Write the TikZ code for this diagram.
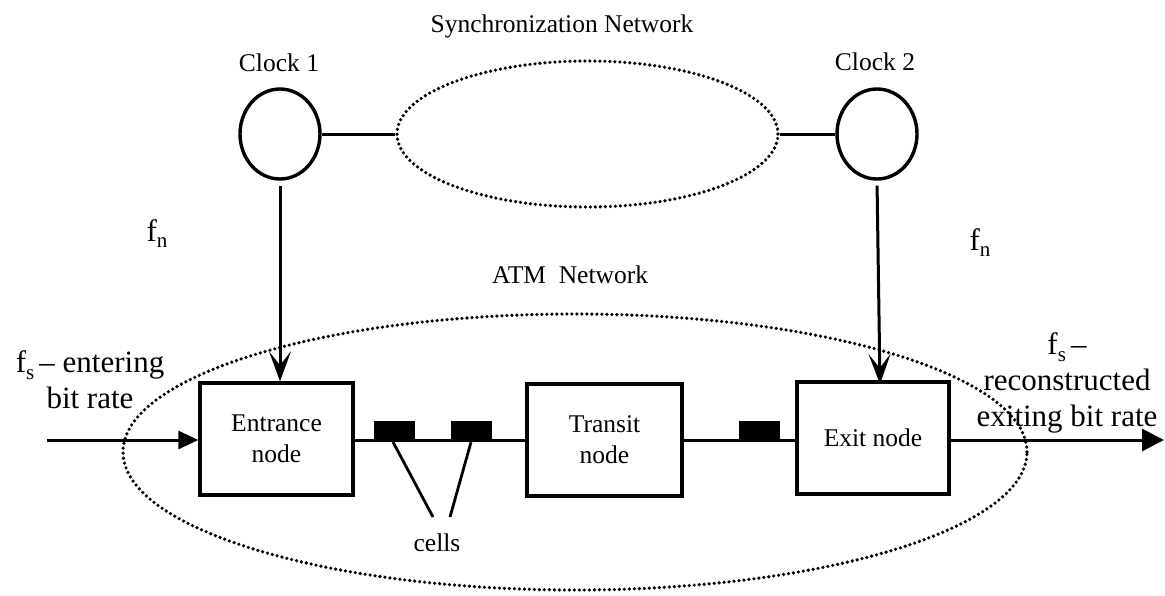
\documentclass[tikz,border=0pt]{standalone}
\usepackage{fontspec}
\setmainfont{Liberation Serif}
\usetikzlibrary{arrows.meta,shapes.geometric}
\newcommand\fsub[1]{f\raisebox{-0.22em}{\fontsize{21}{21}\selectfont #1}}
\begin{document}
\begin{tikzpicture}[x=1pt,y=-1pt,
  smalltext/.style={font=\fontsize{25.5}{31}\selectfont, inner sep=0pt},
  bigtext/.style={font=\fontsize{31}{36}\selectfont, inner sep=0pt, align=center},
  nodebox/.style={draw, line width=3.4pt, minimum height=112pt, align=center,
    font=\fontsize{25.5}{31}\selectfont, inner sep=0pt},
  clock/.style={draw, ellipse, line width=3.4pt, minimum width=80pt, minimum height=90pt, inner sep=0pt},
  dotellipse/.style={draw, ellipse, line width=3.6pt, dash pattern=on 0pt off 5pt, line cap=round, inner sep=0pt},
  cell/.style={fill=black, minimum width=41pt, minimum height=21pt, inner sep=0pt},
  wire/.style={line width=3pt},
  clockarrow/.style={line width=3pt, shorten <=5pt, -{Stealth[length=30pt,width=22pt,inset=14pt]}},
  inarrow/.style={line width=3pt, -{Triangle[length=20pt,width=18pt]}},
  outarrow/.style={line width=3pt, -{Triangle[length=22pt,width=22pt]}}]
\useasboundingbox (0,0) rectangle (1165,595);
% ellipses
\node[dotellipse, minimum width=381pt, minimum height=146pt] (sync) at (587.5,134) {};
\node[dotellipse, minimum width=904pt, minimum height=276pt] (atm) at (575,452) {};
% clocks
\node[clock] (clk1) at (280,134) {};
\node[clock] (clk2) at (877,134) {};
\node[smalltext, anchor=base] (clk1l) at (279,71) {Clock 1};
\node[smalltext, anchor=base] (clk2l) at (875,70) {Clock 2};
\node[smalltext, anchor=base] (syncl) at (562,32) {Synchronization Network};
\node[smalltext, anchor=base west] (atml) at (492,283) {ATM\ \ Network};
% boxes
\node[nodebox, minimum width=153pt] (entr) at (276.5,439) {Entrance\\node};
\node[nodebox, minimum width=155pt] (trans) at (604.5,440) {Transit\\node};
\node[nodebox, minimum width=152pt] (exitn) at (873,438) {Exit node};
% wires
\draw[wire] (clk1.east) -- (sync.west);
\draw[wire] (sync.east) -- (clk2.west);
\draw[wire] (entr.east |- 0,440) -- (trans.west |- 0,440);
\draw[wire] (trans.east |- 0,440) -- (exitn.west |- 0,440);
% cells
\node[cell] (cell1) at (394.5,431.5) {};
\node[cell] (cell2) at (471,431.5) {};
\node[cell] (cell3) at (759,431.5) {};
\node[smalltext, anchor=base] (cellsl) at (437,551) {cells};
\coordinate (c1end) at (433,517);
\coordinate (c2end) at (450,517);
\draw[line width=2.8pt] (393,442) -- (c1end);
\draw[line width=2.8pt] (cell2.south) -- (c2end);
% clock arrows
\coordinate (a2end) at (880,384);
\draw[clockarrow] (clk1.south) -- (entr.north -| clk1.south);
\draw[clockarrow] (clk2.south) -- (a2end);
% in / out arrows
\coordinate (inpt) at (47,440);
\coordinate (outpt) at (1164,440);
\draw[inarrow] (inpt) -- (entr.west |- inpt);
\draw[outarrow] (exitn.east |- outpt) -- (outpt);
% labels
\node[bigtext, anchor=base] (fn1) at (157,241) {\fsub{n}};
\node[bigtext, anchor=base] (fn2) at (980,250) {\fsub{n}};
\node[bigtext] (fsin) at (90,380) {\fsub{s}\,– entering\\bit rate};
\node[bigtext] (fsout) at (1067,383) {\fsub{s}\,–\\reconstructed\\exiting bit rate};
\end{tikzpicture}
\end{document}
